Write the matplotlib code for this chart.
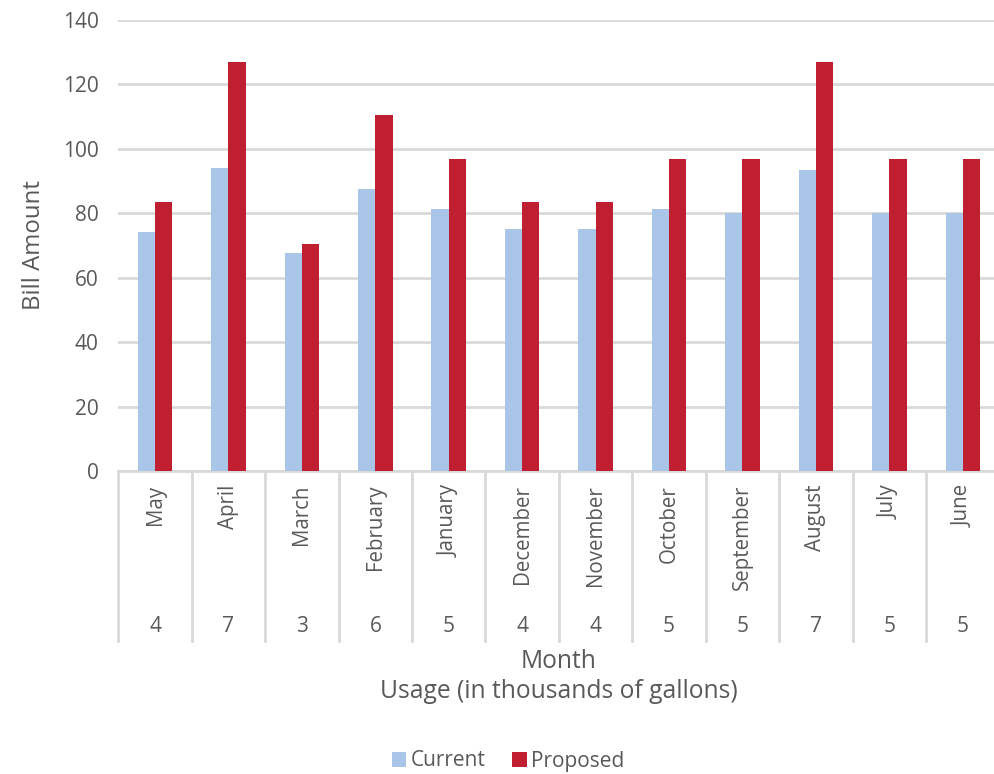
import matplotlib
matplotlib.use("Agg")
import matplotlib.pyplot as plt
import matplotlib.transforms as mtransforms
import numpy as np

plt.rcParams['font.family'] = ['Open Sans', 'DejaVu Sans']

months = ["May", "April", "March", "February", "January", "December",
          "November", "October", "September", "August", "July", "June"]
usage = ["4", "7", "3", "6", "5", "4", "4", "5", "5", "7", "5", "5"]
current = [74.0, 94.0, 67.7, 87.6, 81.4, 75.1, 75.1, 81.4, 80.0, 93.4, 80.0, 80.0]
proposed = [83.6, 126.8, 70.3, 110.4, 96.9, 83.6, 83.6, 96.9, 96.9, 126.8, 96.9, 96.9]

text_color = "#595959"
grid_color = "#D9D9D9"
c_current = "#A9C6E9"
c_proposed = "#C01F32"

W, H = 994, 774
fig = plt.figure(figsize=(W / 100, H / 100), dpi=100)
left, right = 118.3, 999.5
top, bottom = 19.7, 471.0
ax = fig.add_axes([left / W, 1 - bottom / H, (right - left) / W, (bottom - top) / H])

x = np.arange(len(months))
bw = 0.235
ax.bar(x - bw / 2, current, width=bw, color=c_current, label="Current", zorder=3)
ax.bar(x + bw / 2, proposed, width=bw, color=c_proposed, label="Proposed", zorder=3)

ax.set_xlim(-0.5, len(months) - 0.5)
ax.set_ylim(0, 140)
ax.set_yticks(np.arange(0, 141, 20))
ax.yaxis.grid(True, color=grid_color, linewidth=2.0, zorder=0)
ax.set_axisbelow(True)
for s in ["left", "right", "top"]:
    ax.spines[s].set_visible(False)
ax.spines["bottom"].set_color(grid_color)
ax.spines["bottom"].set_linewidth(2.0)

ax.tick_params(axis="y", length=0, pad=14, labelsize=15, labelcolor=text_color)
ax.set_xticks(x)
ax.set_xticklabels(months, rotation=90, va="top", ha="center")
ax.tick_params(axis="x", length=0, pad=10, labelsize=14.8, labelcolor=text_color)

# category dividers below the axis (two levels: month and usage)
trans = mtransforms.blended_transform_factory(ax.transData, ax.transAxes)
ah = bottom - top
for b in np.arange(-0.5, len(months), 1.0):
    ax.plot([b, b], [0, -(597 - bottom) / ah], transform=trans, color=grid_color,
            linewidth=2.0, clip_on=False, zorder=1)
    ax.plot([b, b], [-(599 - bottom) / ah, -(641 - bottom) / ah], transform=trans,
            color=grid_color, linewidth=2.0, clip_on=False, zorder=1)

# usage labels (second level of the category axis)
for xi, u in zip(x, usage):
    ax.text(xi, -(627 - bottom) / ah, u, transform=trans, ha="center", va="center",
            fontsize=15, color=text_color)

ax.text(0.5, -(661 - bottom) / ah, "Month", transform=ax.transAxes, ha="center",
        va="center", fontsize=17.7, color=text_color)
ax.text(0.5, -(692 - bottom) / ah, "Usage (in thousands of gallons)", transform=ax.transAxes,
        ha="center", va="center", fontsize=17.7, color=text_color)

ax.set_ylabel("Bill Amount", fontsize=17.3, color=text_color)
ax.yaxis.set_label_coords((46 - left) / (right - left), 0.5)

fig.legend(loc="center", bbox_to_anchor=(508 / W, 1 - 761 / H), ncol=2, frameon=False,
           handlelength=0.7, handleheight=0.7, handletextpad=0.2, columnspacing=1.3,
           fontsize=15, labelcolor=text_color)

fig.savefig("out.png", dpi=100, facecolor="white")
